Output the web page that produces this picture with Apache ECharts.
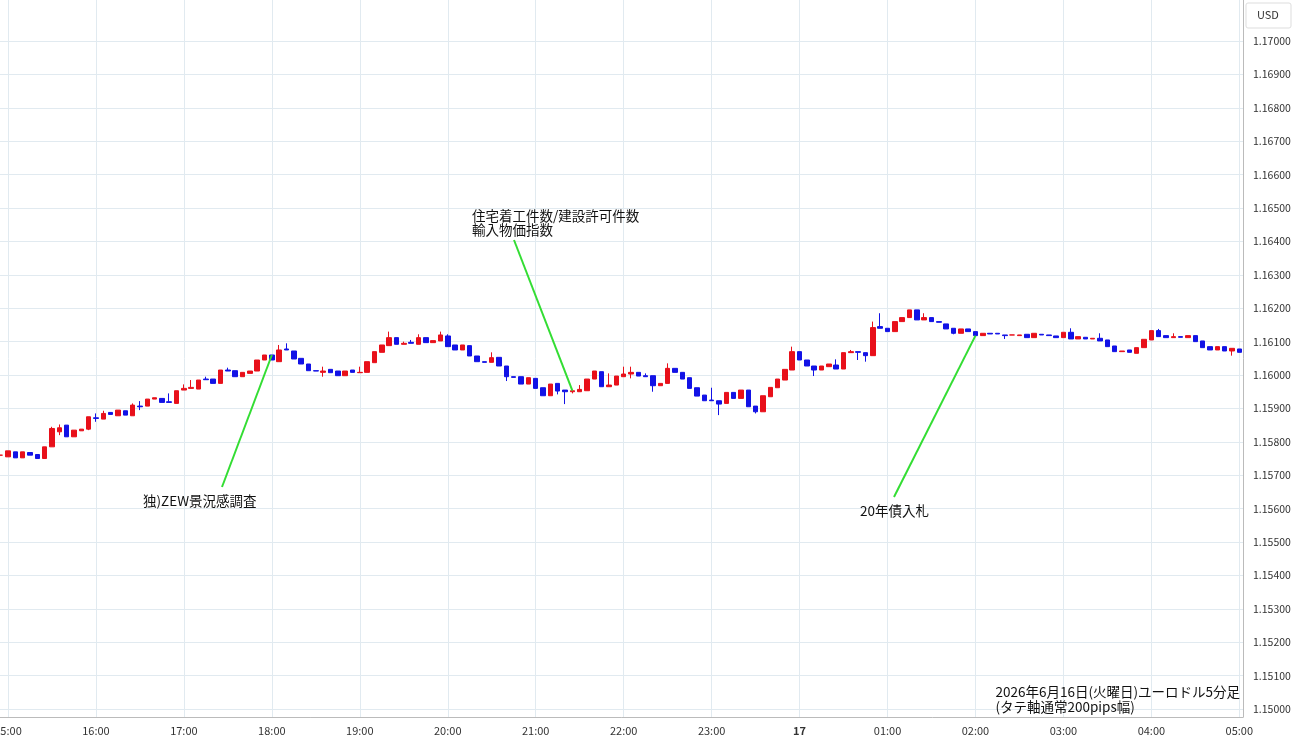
<!DOCTYPE html>
<html><head><meta charset="utf-8">
<script src="https://cdn.jsdelivr.net/npm/echarts@6/dist/echarts.min.js"></script>
<style>html,body{margin:0;padding:0;background:#fff}#c{width:1300px;height:745px}</style>
</head><body><div id="c"></div>
<script>
const startTime = '2026-06-16T14:55:00';
const stepMinutes = 5;
const opens = [1.15760,1.15755,1.15770,1.15752,1.15768,1.15762,1.15750,1.15785,1.15830,1.15850,
1.15815,1.15833,1.15838,1.15872,1.15868,1.15888,1.15878,1.15893,1.15878,1.15907,
1.15907,1.15928,1.15930,1.15920,1.15915,1.15955,1.15960,1.15958,1.15988,1.15988,
1.15975,1.16015,1.16013,1.15995,1.16005,1.16012,1.16045,1.16060,1.16040,1.16078,
1.16072,1.16050,1.16033,1.16013,1.16008,1.16017,1.16012,1.15998,1.16015,1.16007,
1.16008,1.16037,1.16068,1.16088,1.16112,1.16092,1.16098,1.16092,1.16112,1.16097,
1.16102,1.16117,1.16090,1.16075,1.16088,1.16057,1.16040,1.16038,1.16053,1.16027,
1.15995,1.15995,1.15973,1.15990,1.15962,1.15938,1.15975,1.15955,1.15950,1.15950,
1.15953,1.15988,1.16010,1.15965,1.15970,1.15995,1.16003,1.16008,1.15998,1.15998,
1.15968,1.15975,1.16020,1.16008,1.15992,1.15962,1.15940,1.15925,1.15923,1.15915,
1.15948,1.15930,1.15955,1.15907,1.15890,1.15935,1.15962,1.15985,1.16015,1.16070,
1.16045,1.16027,1.16015,1.16025,1.16030,1.16018,1.16067,1.16070,1.16067,1.16058,
1.16145,1.16140,1.16130,1.16160,1.16172,1.16195,1.16165,1.16172,1.16160,1.16153,
1.16140,1.16125,1.16138,1.16130,1.16118,1.16125,1.16125,1.16120,1.16120,1.16118,
1.16122,1.16112,1.16122,1.16120,1.16117,1.16112,1.16128,1.16108,1.16113,1.16108,
1.16110,1.16105,1.16087,1.16070,1.16075,1.16065,1.16082,1.16105,1.16133,1.16118,
1.16112,1.16115,1.16112,1.16118,1.16102,1.16085,1.16075,1.16085,1.16072,1.16078];
const closes = [1.15760,1.15773,1.15752,1.15770,1.15760,1.15750,1.15785,1.15840,1.15842,1.15815,
1.15835,1.15838,1.15875,1.15870,1.15885,1.15882,1.15895,1.15880,1.15910,1.15905,
1.15928,1.15932,1.15918,1.15918,1.15953,1.15960,1.15963,1.15985,1.15986,1.15975,
1.16015,1.16012,1.15995,1.16008,1.16012,1.16045,1.16060,1.16045,1.16075,1.16075,
1.16048,1.16033,1.16013,1.16012,1.16012,1.16007,1.15998,1.16012,1.16008,1.16008,
1.16040,1.16070,1.16090,1.16112,1.16092,1.16095,1.16095,1.16112,1.16097,1.16103,
1.16120,1.16085,1.16075,1.16090,1.16057,1.16040,1.16038,1.16052,1.16027,1.15995,
1.15993,1.15973,1.15992,1.15960,1.15938,1.15973,1.15952,1.15950,1.15953,1.15957,
1.15988,1.16012,1.15965,1.15970,1.15997,1.16003,1.16008,1.15997,1.15995,1.15968,
1.15975,1.16020,1.16008,1.15988,1.15960,1.15937,1.15923,1.15923,1.15913,1.15948,
1.15930,1.15955,1.15905,1.15890,1.15938,1.15963,1.15988,1.16017,1.16070,1.16045,
1.16027,1.16015,1.16027,1.16033,1.16018,1.16067,1.16070,1.16068,1.16058,1.16142,
1.16140,1.16130,1.16160,1.16172,1.16195,1.16165,1.16172,1.16160,1.16158,1.16138,
1.16125,1.16138,1.16130,1.16118,1.16125,1.16123,1.16123,1.16118,1.16120,1.16120,
1.16112,1.16125,1.16120,1.16118,1.16112,1.16128,1.16108,1.16115,1.16108,1.16110,
1.16102,1.16085,1.16070,1.16072,1.16068,1.16082,1.16107,1.16133,1.16115,1.16112,
1.16115,1.16113,1.16118,1.16100,1.16082,1.16075,1.16085,1.16072,1.16080,1.16068];
const highs = {7:1.15845,8:1.15852,13:1.15885,14:1.15893,18:1.15915,19:1.15922,23:1.15945,25:1.15972,26:1.15985,28:1.15995,31:1.16022,38:1.16090,39:1.16095,44:1.16025,49:1.16025,53:1.16130,55:1.16100,56:1.16105,57:1.16122,60:1.16130,61:1.16122,67:1.16068,79:1.15970,83:1.16005,85:1.16025,86:1.16025,88:1.16005,91:1.16035,97:1.15962,108:1.16085,114:1.16047,116:1.16075,119:1.16160,120:1.16185,126:1.16185,146:1.16140,150:1.16125,158:1.16138,160:1.16125};
const lows = {8:1.15820,12:1.15835,13:1.15860,19:1.15895,44:1.15995,69:1.15982,76:1.15942,77:1.15913,78:1.15945,86:1.15990,89:1.15950,98:1.15880,103:1.15885,111:1.15997,117:1.16045,118:1.16040,137:1.16108,168:1.16058,130:1.16122};
const yTicks = [1.150,1.151,1.152,1.153,1.154,1.155,1.156,1.157,1.158,1.159,1.160,1.161,1.162,1.163,1.164,1.165,1.166,1.167,1.168,1.169,1.170];
const notes = [
  {idx:37, price:1.16060, text:['独)ZEW景況感調査'], tx:143, ty:494, ex:222, ey:487},
  {idx:78, price:1.15953, text:['住宅着工件数/建設許可件数','輸入物価指数'], tx:472, ty:209, ex:514, ey:240},
  {idx:133, price:1.16118, text:['20年債入札'], tx:860, ty:504, ex:894, ey:497}
];
const pad=n=>String(n).padStart(2,'0');
const t0 = new Date(startTime).getTime();
const times = opens.map((_,i)=>t0+i*stepMinutes*60000);
const data = opens.map((o,i)=>{
  const c=closes[i];
  const lo = Math.min(o,c, lows[i]!==undefined?lows[i]:Infinity);
  const hi = Math.max(o,c, highs[i]!==undefined?highs[i]:-Infinity);
  return [times[i], o, c, lo, hi];
});
const chart = echarts.init(document.getElementById('c'));
const font = '"Noto Sans CJK JP","Noto Sans",sans-serif';
chart.setOption({
  animation:false,
  grid:{left:-3,right:57,top:0,bottom:28,containLabel:false,outerBoundsMode:'none'},
  xAxis:{type:'time', min:t0-150000, max:times[times.length-1]+150000,
    minInterval:3600000, maxInterval:3600000, interval:3600000,
    axisLine:{show:true,lineStyle:{color:'#bbb'}}, axisTick:{show:false},
    splitLine:{show:true,lineStyle:{color:'#e1eaf0'}},
    axisLabel:{color:'#333',fontSize:11,fontFamily:font,hideOverlap:false,
      formatter:v=>{const d=new Date(v);return (d.getHours()===0&&d.getMinutes()===0)?'{b|'+d.getDate()+'}':pad(d.getHours())+':'+pad(d.getMinutes());},
      rich:{b:{fontWeight:'bold',fontSize:11,color:'#333'}}}},
  yAxis:{type:'value', position:'right', min:1.14976, max:1.17123, scale:true,
    axisLine:{show:true,lineStyle:{color:'#bbb'}}, axisTick:{show:false,customValues:yTicks},
    splitLine:{show:true,lineStyle:{color:'#e1eaf0'}},
    axisLabel:{customValues:yTicks, color:'#333',fontSize:10.5,fontFamily:font,margin:10,formatter:v=>v.toFixed(5)}},
  series:[{type:'candlestick', data:data, barWidth:5,
    itemStyle:{color:'#e8101a',color0:'#1212e6',borderColor:'#e8101a',borderColor0:'#1212e6',borderWidth:1}}]
});
const g=[];
notes.forEach(n=>{
  const p=chart.convertToPixel({gridIndex:0},[times[n.idx],n.price]);
  g.push({type:'line',shape:{x1:n.ex,y1:n.ey,x2:p[0],y2:p[1]},style:{stroke:'#33dd33',lineWidth:2},z:10});
  g.push({type:'text',x:n.tx,y:n.ty,style:{text:n.text.join('\n'),font:'13.5px '+font,fill:'#111',lineHeight:14}});
});
g.push({type:'text',right:60,top:684,style:{text:'2026年6月16日(火曜日)ユーロドル5分足\n(タテ軸通常200pips幅)',font:'13.5px '+font,fill:'#111',align:'right',lineHeight:15}});
g.push({type:'rect',shape:{x:1246,y:3,width:45,height:25,r:2},style:{fill:'#fff',stroke:'#ddd'}});
g.push({type:'text',x:1257,y:9,style:{text:'USD',font:'11px '+font,fill:'#333'}});
chart.setOption({graphic:g});
</script></body></html>
